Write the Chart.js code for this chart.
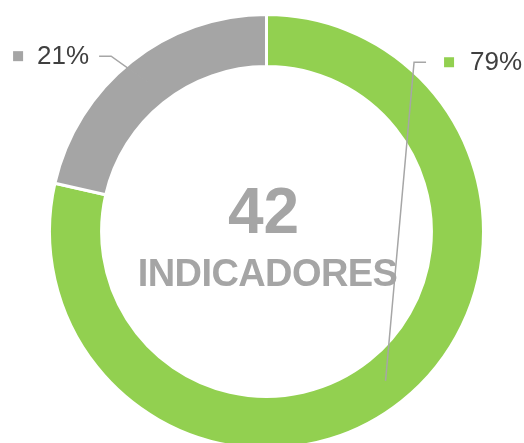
<!DOCTYPE html>
<html>
<head>
<meta charset="utf-8">
<script src="https://cdn.jsdelivr.net/npm/chart.js@4.4.1/dist/chart.umd.min.js"></script>
<style>
  html, body { margin: 0; padding: 0; background: #fff; overflow: hidden; }
  #wrap { width: 524px; height: 447px; }
</style>
</head>
<body>
<div id="wrap"><canvas id="graficaIndicadores"></canvas></div>
<script>
// datos
var categorias = ['Cumplidos', 'No cumplidos'];
var valores = [33, 9];
var colores = ['#92d050', '#a5a5a5'];
var textoCentro = 'INDICADORES';

// etiquetas exteriores con linea guia (posiciones relativas al radio)
var posEtiquetas = [
    { dx: 0.68, dy: -0.78 },
    { dx: -0.716, dy: -0.808 }
];

var etiquetasFuera = {
    id: 'etiquetasFuera',
    afterDatasetsDraw: function(chart) {
        var ctx = chart.ctx;
        var meta = chart.getDatasetMeta(0);
        var total = valores.reduce(function(a, b) { return a + b; }, 0);
        meta.data.forEach(function(arc, i) {
            var p = arc.getProps(['x', 'y', 'startAngle', 'endAngle', 'innerRadius', 'outerRadius'], true);
            var mid = (p.startAngle + p.endAngle) / 2;
            var rMid = (p.innerRadius + p.outerRadius) / 2;
            var px = p.x + Math.cos(mid) * rMid;
            var py = p.y + Math.sin(mid) * rMid;
            var ex = p.x + posEtiquetas[i].dx * p.outerRadius;
            var ey = p.y + posEtiquetas[i].dy * p.outerRadius;
            var lado = posEtiquetas[i].dx < 0 ? -1 : 1;
            var fx = ex + lado * 12;

            ctx.save();
            ctx.strokeStyle = '#a6a6a6';
            ctx.lineWidth = 1.5;
            ctx.beginPath();
            ctx.moveTo(px, py);
            ctx.lineTo(ex, ey);
            ctx.lineTo(fx, ey);
            ctx.stroke();

            var texto = Math.round(valores[i] / total * 100) + '%';
            ctx.font = '26px "Liberation Sans", Arial, sans-serif';
            ctx.textBaseline = 'middle';
            var w = ctx.measureText(texto).width;
            var cuadro = 10;
            var sx, tx;
            if (lado > 0) {
                sx = fx + 18;
                tx = sx + cuadro + 16;
            } else {
                tx = fx - 10 - w;
                sx = tx - 14 - cuadro;
            }
            ctx.fillStyle = colores[i];
            ctx.fillRect(sx, ey - cuadro / 2, cuadro, cuadro);
            ctx.fillStyle = '#404040';
            ctx.textAlign = 'left';
            ctx.fillText(texto, tx, ey + 1);
            ctx.restore();
        });
    }
};

var textoCentral = {
    id: 'textoCentral',
    afterDraw: function(chart) {
        var ctx = chart.ctx;
        var arc = chart.getDatasetMeta(0).data[0];
        var total = valores.reduce(function(a, b) { return a + b; }, 0);
        ctx.save();
        ctx.fillStyle = '#a5a5a5';
        ctx.textAlign = 'center';
        ctx.textBaseline = 'alphabetic';
        ctx.font = 'bold 64px "Liberation Sans", Arial, sans-serif';
        ctx.fillText(String(total), arc.x - 3, arc.y + 1);
        ctx.font = 'bold 38px "Liberation Sans", Arial, sans-serif';
        ctx.letterSpacing = '-0.6px';
        ctx.fillText(textoCentro, arc.x + 1, arc.y + 54);
        ctx.restore();
    }
};

document.addEventListener('DOMContentLoaded', function() {
    var ctx = document.getElementById('graficaIndicadores').getContext('2d');
    var grafica = new Chart(ctx, {
        type: 'doughnut',
        data: {
            labels: categorias,
            datasets: [{
                data: valores,
                backgroundColor: colores,
                borderColor: '#ffffff',
                borderWidth: 3
            }]
        },
        options: {
            responsive: true,
            maintainAspectRatio: false,
            animation: false,
            radius: 217,
            cutout: '76%',
            events: [],
            layout: {
                padding: { top: 16, left: 9, right: 0, bottom: 0 }
            },
            plugins: {
                legend: { display: false },
                tooltip: { enabled: false }
            }
        },
        plugins: [etiquetasFuera, textoCentral]
    });
});
</script>
</body>
</html>
